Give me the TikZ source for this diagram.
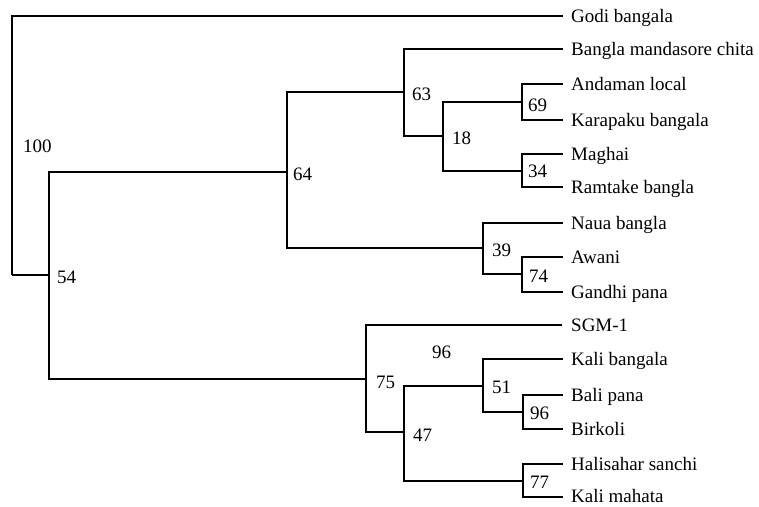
\documentclass[tikz,border=0pt]{standalone}
\usepackage{fontspec}
\setmainfont{Liberation Serif}
\begin{document}
\begin{tikzpicture}[x=1pt,y=-1pt,
  branch/.style={line width=1.7pt,line join=miter},
  leaf/.style={anchor=base west,inner sep=0pt,font=\fontsize{19}{21}\selectfont},
  boot/.style={anchor=west,inner sep=0pt,font=\fontsize{19}{21}\selectfont}]
\useasboundingbox (0,0) rectangle (759,506);
% internal nodes (vertical x, attachment y)
\coordinate (root) at (12,275);
\coordinate (n54) at (49,275);
\coordinate (n64) at (287,172);
\coordinate (n63) at (404,92);
\coordinate (n18) at (443,136);
\coordinate (n69) at (522,102);
\coordinate (n34) at (522,171);
\coordinate (n39) at (483,248);
\coordinate (n74) at (522,274);
\coordinate (n75) at (366,379);
\coordinate (n47) at (404,432);
\coordinate (n51) at (483,386);
\coordinate (n96) at (523,412);
\coordinate (n77) at (523,481);
% leaf ends
\coordinate (l1) at (563,16);
\coordinate (l2) at (563,49);
\coordinate (l3) at (563,84);
\coordinate (l4) at (563,120);
\coordinate (l5) at (563,154);
\coordinate (l6) at (563,187);
\coordinate (l7) at (563,223);
\coordinate (l8) at (563,257);
\coordinate (l9) at (563,292);
\coordinate (l10) at (562,325);
\coordinate (l11) at (563,359);
\coordinate (l12) at (563,395);
\coordinate (l13) at (563,429);
\coordinate (l14) at (563,464);
\coordinate (l15) at (563,497);
% leaf labels
\node[leaf] (t1) at (571,22) {Godi bangala};
\node[leaf] (t2) at (571,55) {Bangla mandasore chita};
\node[leaf] (t3) at (571,90) {Andaman local};
\node[leaf] (t4) at (571,126) {Karapaku bangala};
\node[leaf] (t5) at (571,160) {Maghai};
\node[leaf] (t6) at (571,193) {Ramtake bangla};
\node[leaf] (t7) at (571,229) {Naua bangla};
\node[leaf] (t8) at (571,263) {Awani};
\node[leaf] (t9) at (571,298) {Gandhi pana};
\node[leaf] (t10) at (571,331) {SGM-1};
\node[leaf] (t11) at (571,365) {Kali bangala};
\node[leaf] (t12) at (571,401) {Bali pana};
\node[leaf] (t13) at (571,435) {Birkoli};
\node[leaf] (t14) at (571,470) {Halisahar sanchi};
\node[leaf] (t15) at (571,502) {Kali mahata};
% branches
\draw[branch] (root) |- (l1);
\draw[branch] (root) |- (n54);
\draw[branch] (n54) |- (n64);
\draw[branch] (n54) |- (n75);
\draw[branch] (n64) |- (n63);
\draw[branch] (n64) |- (n39);
\draw[branch] (n63) |- (l2);
\draw[branch] (n63) |- (n18);
\draw[branch] (n18) |- (n69);
\draw[branch] (n18) |- (n34);
\draw[branch] (n69) |- (l3);
\draw[branch] (n69) |- (l4);
\draw[branch] (n34) |- (l5);
\draw[branch] (n34) |- (l6);
\draw[branch] (n39) |- (l7);
\draw[branch] (n39) |- (n74);
\draw[branch] (n74) |- (l8);
\draw[branch] (n74) |- (l9);
\draw[branch] (n75) |- (l10);
\draw[branch] (n75) |- (n47);
\draw[branch] (n47) |- (n51);
\draw[branch] (n47) |- (n77);
\draw[branch] (n51) |- (l11);
\draw[branch] (n51) |- (n96);
\draw[branch] (n96) |- (l12);
\draw[branch] (n96) |- (l13);
\draw[branch] (n77) |- (l14);
\draw[branch] (n77) |- (l15);
% bootstrap values
\node[boot] (b100) at (23,146) {100};
\node[boot] (b54) at (57,277) {54};
\node[boot] (b64) at (293,174) {64};
\node[boot] (b63) at (412,94) {63};
\node[boot] (b18) at (452,138) {18};
\node[boot] (b69) at (528,105) {69};
\node[boot] (b34) at (528,171) {34};
\node[boot] (b39) at (492,250) {39};
\node[boot] (b74) at (529,276) {74};
\node[boot] (b75) at (376,382) {75};
\node[boot] (b96a) at (432,352) {96};
\node[boot] (b47) at (413,435) {47};
\node[boot] (b51) at (492,387) {51};
\node[boot] (b96) at (530,413) {96};
\node[boot] (b77) at (530,482) {77};
\end{tikzpicture}
\end{document}
